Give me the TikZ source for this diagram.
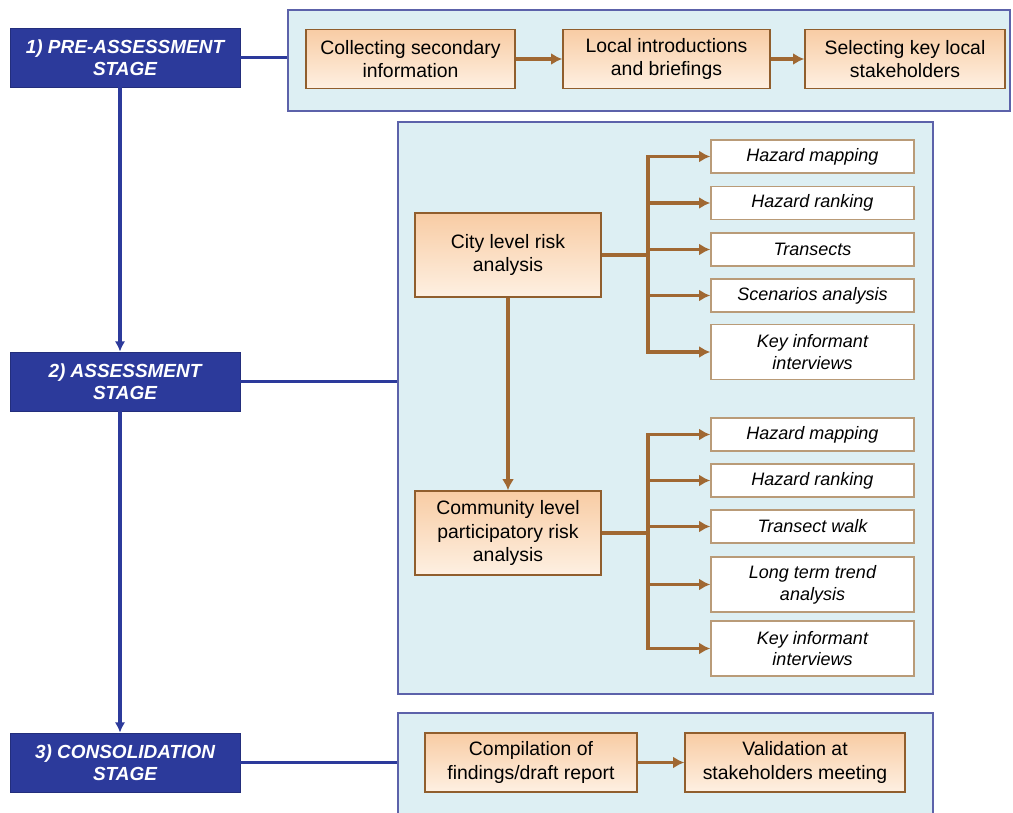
\documentclass[tikz,border=0pt]{standalone}
\usepackage{fontspec}
\setmainfont{Liberation Sans}
\usetikzlibrary{arrows.meta}
\definecolor{stageblue}{RGB}{44,58,155}
\definecolor{panelfill}{RGB}{221,239,243}
\definecolor{panelline}{RGB}{92,98,170}
\definecolor{brownline}{RGB}{160,104,50}
\definecolor{peachtop}{RGB}{254,240,226}
\definecolor{peachbot}{RGB}{248,204,164}
\definecolor{itemline}{RGB}{185,155,120}
\tikzset{
  stagebox/.style={fill=stageblue, draw=stageblue!80!black, text=white,
    font=\bfseries\itshape\fontsize{13.5}{16}\selectfont, align=center,
    minimum width=5.75cm, minimum height=1.475cm, inner sep=2pt},
  panel/.style={fill=panelfill, draw=panelline, line width=1.8pt},
  taskbox/.style={top color=peachbot, bottom color=peachtop, draw=brownline!90!black,
    line width=1pt, font=\fontsize{13.8}{16.5}\selectfont, align=center,
    minimum height=1.475cm, inner sep=2pt},
  toolbox/.style={fill=white, draw=itemline, line width=1pt,
    font=\itshape\fontsize{12.8}{15.5}\selectfont, align=center,
    minimum width=5.075cm, minimum height=0.825cm, inner sep=1pt},
  stagelink/.style={draw=stageblue, line width=2.4pt},
  stagearrow/.style={stagelink, -{Latex[length=2.6mm,width=2.6mm]}},
  branch/.style={draw=brownline, line width=2.8pt},
  taskarrow/.style={branch, -{Latex[length=2.8mm,width=3mm]}},
}
\begin{document}
\begin{tikzpicture}[x=0.025cm, y=-0.025cm]
    \useasboundingbox (0,0) rectangle (1013,812);
    \clip (0,0) rectangle (1013,812);
    % panels
    \node[panel, minimum width=18.05cm, minimum height=2.525cm] (prepanel) at (649,60.5) {};
    \node[panel, minimum width=13.375cm, minimum height=14.3cm] (asspanel) at (665.5,408) {};
    \node[panel, minimum width=13.375cm, minimum height=2.925cm] (conpanel) at (665.5,771.5) {};
    % stages
    \node[stagebox] (pre) at (125,57.5) {1) PRE-ASSESSMENT\\STAGE};
    \node[stagebox] (ass) at (125,381.5) {2) ASSESSMENT\\STAGE};
    \node[stagebox] (con) at (125,762.5) {3) CONSOLIDATION\\STAGE};
    \draw[stagearrow] ([xshift=-0.125cm]pre.south) -- ([xshift=-0.125cm]ass.north);
    \draw[stagearrow] ([xshift=-0.125cm]ass.south) -- ([xshift=-0.125cm]con.north);
    \draw[stagelink] (pre.east) -- (pre.east -| prepanel.west);
    \draw[stagelink] (ass.east) -- (ass.east -| asspanel.west);
    \draw[stagelink] (con.east) -- (con.east -| conpanel.west);
    % pre-assessment
    \node[taskbox, minimum width=5.225cm] (collect) at (410.5,59) {Collecting secondary\\information};
    \node[taskbox, minimum width=5.175cm] (intro) at (666.5,59) {Local introductions\\and briefings};
    \node[taskbox, minimum width=5cm] (select) at (905,59) {Selecting key local\\stakeholders};
    \draw[taskarrow] (collect) -- (intro);
    \draw[taskarrow] (intro) -- (select);
    % assessment
    \node[taskbox, minimum width=4.65cm, minimum height=2.1cm] (city) at (508,255) {City level risk\\analysis};
    \node[taskbox, minimum width=4.65cm, minimum height=2.1cm] (comm) at (508,533) {Community level\\participatory risk\\analysis};
    \draw[taskarrow] (city) -- (comm);
    \node[toolbox] (c1) at (812.5,156.5) {Hazard mapping};
    \node[toolbox] (c2) at (812.5,203) {Hazard ranking};
    \node[toolbox] (c3) at (812.5,249.5) {Transects};
    \node[toolbox] (c4) at (812.5,295.5) {Scenarios analysis};
    \node[toolbox, minimum height=1.375cm] (c5) at (812.5,352) {Key informant\\interviews};
    \node[toolbox] (k1) at (812.5,434.5) {Hazard mapping};
    \node[toolbox] (k2) at (812.5,480.5) {Hazard ranking};
    \node[toolbox] (k3) at (812.5,526.5) {Transect walk};
    \node[toolbox, minimum height=1.375cm] (k4) at (812.5,584.5) {Long term trend\\analysis};
    \node[toolbox, minimum height=1.375cm] (k5) at (812.5,648.5) {Key informant\\interviews};
    \coordinate (cityfork) at (648,255);
    \coordinate (commfork) at (648,533);
    \draw[branch] (city.east) -- (cityfork);
    \draw[branch] (comm.east) -- (commfork);
    \foreach \n in {c1,c2,c3,c4,c5}
        \draw[taskarrow] (cityfork) |- (\n.west);
    \foreach \n in {k1,k2,k3,k4,k5}
        \draw[taskarrow] (commfork) |- (\n.west);
    % consolidation
    \node[taskbox, minimum width=5.3cm] (compile) at (531,762.5) {Compilation of\\findings/draft report};
    \node[taskbox, minimum width=5.5cm] (validate) at (795,762.5) {Validation at\\stakeholders meeting};
    \draw[taskarrow] (compile) -- (validate);
\end{tikzpicture}
\end{document}
